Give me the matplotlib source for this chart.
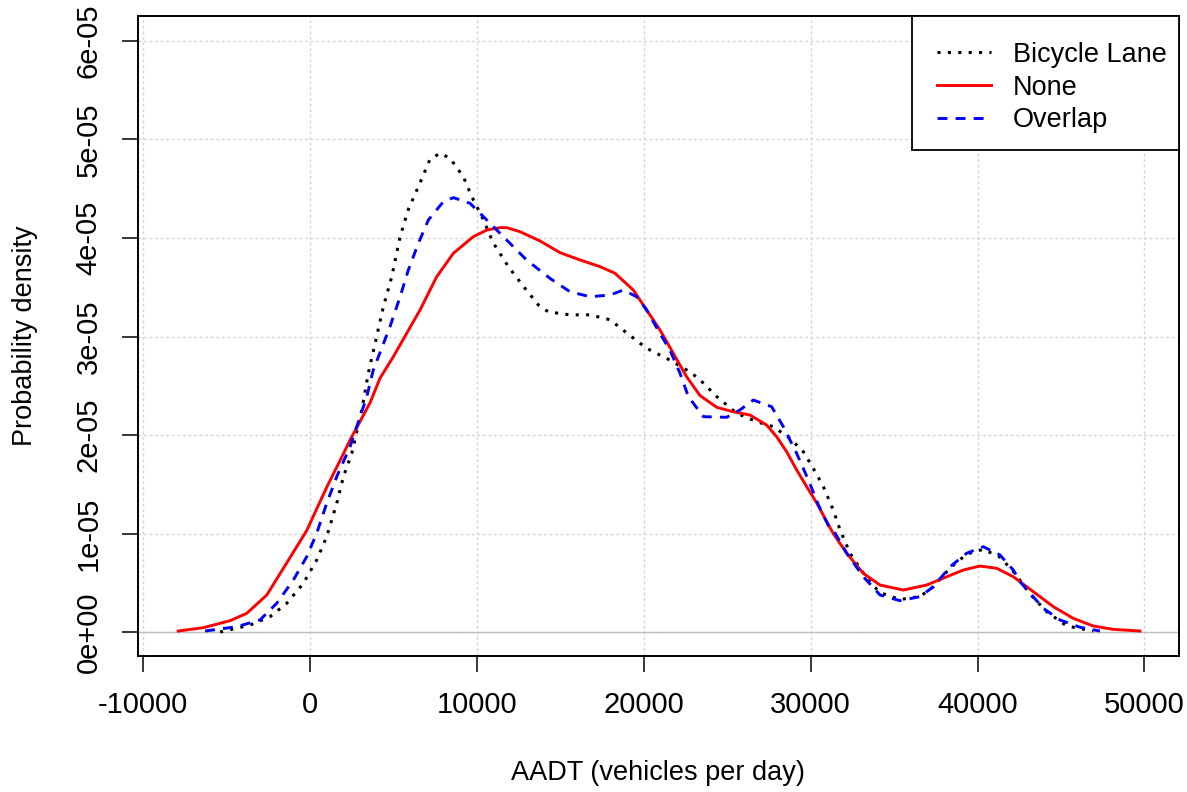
import matplotlib
matplotlib.use("Agg")
import matplotlib.pyplot as plt
from matplotlib.patches import Rectangle
import numpy as np

plt.rcParams['font.family'] = ['Liberation Sans', 'DejaVu Sans']

# density curves (x in vehicles/day, y in units of 1e-5)
bike_x = [-5390, -3590, -2400, -1400, -400, 400, 1000, 1600, 2000, 2500, 3100, 3490,
          3990, 4390, 4900, 5390, 5890, 6590, 7190, 7790, 8390, 9190, 9690, 10290,
          10980, 11880, 12780, 13680, 14280, 15580, 16780, 17980, 19170, 20170, 21570,
          22770, 23370, 24370, 25570, 26760, 27760, 28760, 29560, 30160, 30760, 31350,
          31760, 32360, 32960, 33450, 34150, 35350, 36550, 37350, 38350, 39340, 40340,
          41340, 42240, 42740, 43140, 44140, 45340, 46930]
bike_y = [0.0, 0.071, 0.155, 0.291, 0.494, 0.731, 0.968, 1.307, 1.577, 1.814, 2.254, 2.626,
          3.0, 3.30, 3.61, 4.01, 4.29, 4.56, 4.80, 4.86, 4.81, 4.62, 4.42, 4.22,
          3.95, 3.71, 3.51, 3.32, 3.25, 3.22, 3.22, 3.17, 3.01, 2.88, 2.76,
          2.64, 2.56, 2.39, 2.22, 2.135, 2.084, 1.966, 1.83, 1.66, 1.475, 1.239,
          1.036, 0.799, 0.646, 0.528, 0.40, 0.33, 0.36, 0.46, 0.65, 0.79, 0.84,
          0.76, 0.596, 0.477, 0.386, 0.206, 0.061, 0.01]

none_x = [-7900, -6390, -4790, -3790, -2590, -1600, -200, 1000, 2000, 2400, 3590, 4190, 4990,
          5790, 6590, 7590, 8590, 9780, 10590, 11380, 11790, 12580, 13780, 14980, 16180,
          17380, 18270, 19370, 20170, 20970, 21770, 22570, 23370, 24370, 25360, 26360,
          27360, 27960, 28560, 29160, 29760, 30360, 30960, 31350, 32160, 33150, 34150,
          35550, 36950, 38150, 39140, 40140, 41140, 42140, 43340, 44540, 45730, 46930,
          48130, 49730]
none_y = [0.01, 0.044, 0.115, 0.19, 0.376, 0.646, 1.03, 1.47, 1.81, 1.95, 2.325, 2.576, 2.795,
          3.032, 3.269, 3.607, 3.845, 4.013, 4.081, 4.105, 4.105, 4.064, 3.97, 3.851, 3.777,
          3.709, 3.642, 3.472, 3.269, 3.066, 2.828, 2.59, 2.40, 2.281, 2.236, 2.203,
          2.101, 1.982, 1.830, 1.645, 1.475, 1.31, 1.12, 1.0, 0.799, 0.596, 0.477,
          0.426, 0.477, 0.561, 0.629, 0.670, 0.647, 0.561, 0.409, 0.257, 0.139, 0.061,
          0.027, 0.01]

overlap_x = [-6290, -4390, -3000, -2000, -1000, -200, 400, 1000, 1600, 2400, 3400, 3790,
             4790, 5390, 5890, 6490, 7090, 7990, 8590, 9590, 10790, 11980, 12980, 14380,
             15580, 16780, 17980, 18770, 19570, 20170, 20970, 21570, 22170, 22670, 23570,
             24970, 25760, 26560, 27660, 28360, 29160, 29860, 30460, 31060, 31350, 32160,
             33150, 34150, 35350, 36550, 37350, 38350, 39340, 40340, 41340, 42140, 42540,
             43940, 44940, 46140, 47330]
overlap_y = [0.01, 0.054, 0.122, 0.291, 0.528, 0.764, 1.002, 1.307, 1.577, 1.882, 2.389, 2.66,
             3.10, 3.40, 3.675, 3.946, 4.183, 4.369, 4.41, 4.352, 4.149, 3.946, 3.776, 3.59,
             3.454, 3.404, 3.421, 3.472, 3.404, 3.269, 3.03, 2.86, 2.626, 2.389, 2.186,
             2.18, 2.254, 2.355, 2.287, 2.084, 1.813, 1.543, 1.29, 1.08, 1.036, 0.799,
             0.562, 0.376, 0.318, 0.359, 0.46, 0.663, 0.799, 0.866, 0.782, 0.629, 0.511,
             0.24, 0.122, 0.048, 0.01]

series_names = ['Bicycle Lane', 'None', 'Overlap']
xticks = [-10000, 0, 10000, 20000, 30000, 40000, 50000]
yticks = [0, 1e-5, 2e-5, 3e-5, 4e-5, 5e-5, 6e-5]
ytick_labels = ['0e+00', '1e-05', '2e-05', '3e-05', '4e-05', '5e-05', '6e-05']

fig = plt.figure(figsize=(11.87, 7.92), dpi=100)
ax = fig.add_axes([0.1163, 0.1717, 0.8767, 0.8085])

ax.grid(color='#d3d3d3', linestyle=(0, (2, 2)), lw=1)
ax.set_axisbelow(True)
ax.axhline(0, color='#bebebe', lw=1, zorder=1)

ax.plot(bike_x, np.array(bike_y) * 1e-5, color='black', lw=2.2,
        linestyle=(0, (1.0, 2.4)), label=series_names[0])
ax.plot(none_x, np.array(none_y) * 1e-5, color='red', lw=2.1, label=series_names[1])
ax.plot(overlap_x, np.array(overlap_y) * 1e-5, color='blue', lw=2.1,
        linestyle=(0, (3.4, 2.8)), label=series_names[2])

ax.set_xlim(-10306, 52049)
ax.set_ylim(-0.2437e-5, 6.257e-5)
ax.set_xticks(xticks)
ax.set_xticklabels([str(t) for t in xticks])
ax.set_yticks(yticks)
ax.set_yticklabels(ytick_labels, rotation=90, va='center')
ax.tick_params(direction='out', length=11.5, width=1.1, labelsize=21, pad=14)
for s in ax.spines.values():
    s.set_linewidth(1.4)

ax.set_xlabel('AADT (vehicles per day)', fontsize=19.5)
ax.xaxis.set_label_coords(0.5, -0.1827)
ax.xaxis.label.set_va('center')
ax.set_ylabel('Probability density', fontsize=19.5)
ax.yaxis.set_label_coords(-0.1086, 0.5)
ax.yaxis.label.set_va('center')

# R-style legend box: frame drawn separately so the padding can differ per side
ax.add_patch(Rectangle((0.7437, 0.7903), 0.2563, 0.2097, transform=ax.transAxes,
                       facecolor='white', edgecolor='black', lw=1.3, zorder=4,
                       clip_on=False))
leg = ax.legend(loc='upper left', bbox_to_anchor=(0.7677, 0.959), fontsize=19.5,
                frameon=False, borderaxespad=0, borderpad=0, handlelength=2.0,
                handletextpad=0.81, labelspacing=0.25)
leg.set_zorder(5)

fig.savefig('out.png', dpi=100)
